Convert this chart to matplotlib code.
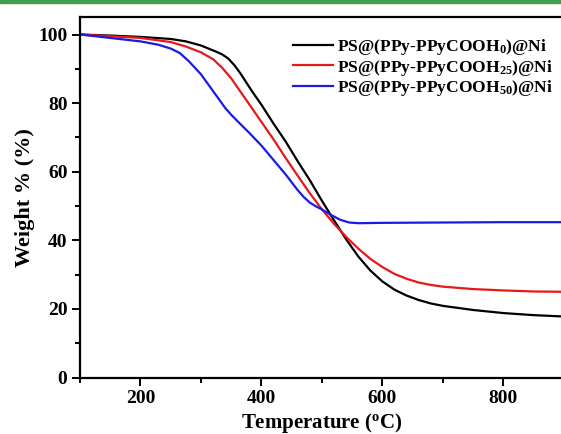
import matplotlib
matplotlib.use('Agg')
from matplotlib import pyplot as plt
from matplotlib.patches import Rectangle
from matplotlib.ticker import MultipleLocator

# TGA curves
temp_h0 = [100, 150, 200, 250, 275, 300, 325, 335, 345, 355, 365, 375, 385, 400, 420, 440, 460, 480, 500,
           520, 540, 560, 580, 600, 620, 640, 660, 680, 700, 750, 800, 850, 900]
weight_h0 = [100, 99.7, 99.3, 98.7, 98.0, 96.8, 95.0, 94.2, 93.0, 91.1, 88.7, 86.0, 83.3, 79.5, 74.0, 68.8, 63.0,
             57.5, 51.5, 45.8, 40.3, 35.3, 31.2, 28.0, 25.6, 23.9, 22.6, 21.6, 20.9, 19.7, 18.8, 18.2, 17.8]

temp_h25 = [100, 150, 200, 250, 275, 300, 320, 335, 350, 365, 380, 400, 420, 440, 460, 480, 500,
            520, 540, 560, 580, 600, 620, 640, 660, 680, 700, 750, 800, 850, 900]
weight_h25 = [100, 99.5, 99.0, 97.8, 96.5, 94.8, 92.8, 90.3, 87.2, 83.4, 79.6, 74.5, 69.4, 64.0, 58.8, 53.7, 49.0,
              44.8, 41.0, 37.6, 34.6, 32.2, 30.2, 28.8, 27.7, 27.0, 26.5, 25.8, 25.4, 25.1, 25.0]

temp_h50 = [100, 150, 200, 230, 250, 265, 280, 300, 320, 340, 350, 360, 380, 400, 420, 440, 450, 460, 470,
            480, 490, 500, 515, 530, 545, 560, 600, 700, 800, 900]
weight_h50 = [100, 99.0, 98.0, 97.0, 95.9, 94.6, 92.2, 88.4, 83.5, 78.6, 76.6, 74.8, 71.3, 67.6, 63.4, 59.2,
              56.9, 54.6, 52.6, 51.0, 49.9, 49.0, 47.4, 46.0, 45.2, 45.0, 45.1, 45.2, 45.3, 45.3]

labels = [r'PS@(PPy-PPyCOOH$_\mathrm{0}$)@Ni',
          r'PS@(PPy-PPyCOOH$_\mathrm{25}$)@Ni',
          r'PS@(PPy-PPyCOOH$_\mathrm{50}$)@Ni']

plt.rcParams['font.family'] = ['Liberation Serif', 'DejaVu Serif']
plt.rcParams['font.weight'] = 'bold'
plt.rcParams['mathtext.fontset'] = 'custom'
plt.rcParams['mathtext.rm'] = 'Liberation Serif:bold'
plt.rcParams['mathtext.it'] = 'Liberation Serif:italic:bold'
plt.rcParams['mathtext.bf'] = 'Liberation Serif:bold'

fig = plt.figure(figsize=(5.61, 4.34), dpi=100)
ax = fig.add_axes([0.1426, 0.130, 0.8627, 0.830])

ax.plot(temp_h0, weight_h0, color='black', lw=1.6, label=labels[0])
ax.plot(temp_h25, weight_h25, color='#e81818', lw=1.6, label=labels[1])
ax.plot(temp_h50, weight_h50, color='#1a1ae6', lw=1.6, label=labels[2])

ax.set_xlim(100, 900)
ax.set_ylim(0, 105)
ax.xaxis.set_major_locator(MultipleLocator(200))
ax.xaxis.set_minor_locator(MultipleLocator(100))
ax.yaxis.set_major_locator(MultipleLocator(20))
ax.yaxis.set_minor_locator(MultipleLocator(10))
ax.tick_params(which='major', direction='out', length=6, width=1.4, labelsize=14, pad=3)
ax.tick_params(which='minor', direction='out', length=3.5, width=1.4)
ax.tick_params(top=False, right=False)
for lab in ax.get_xticklabels() + ax.get_yticklabels():
    lab.set_fontweight('bold')
for s in ax.spines.values():
    s.set_linewidth(1.6)
ax.spines['right'].set_visible(False)

ax.set_xlabel(r'Temperature ($^\mathrm{o}$C)', fontsize=15, fontweight='bold', labelpad=3)
ax.set_ylabel('Weight % (%)', fontsize=16, fontweight='bold', labelpad=2)

ax.legend(loc='upper left', bbox_to_anchor=(0.44, 0.945), frameon=False, fontsize=12.6,
          handlelength=2.29, handletextpad=0.2, labelspacing=0.02, borderpad=0, borderaxespad=0)

# green rule along the top edge of the page
fig.patches.append(Rectangle((0, 1 - 2.5 / 434), 1, 2.5 / 434, transform=fig.transFigure,
                             color='#3f9e4f', zorder=10))

fig.savefig('out.png', dpi=100)
